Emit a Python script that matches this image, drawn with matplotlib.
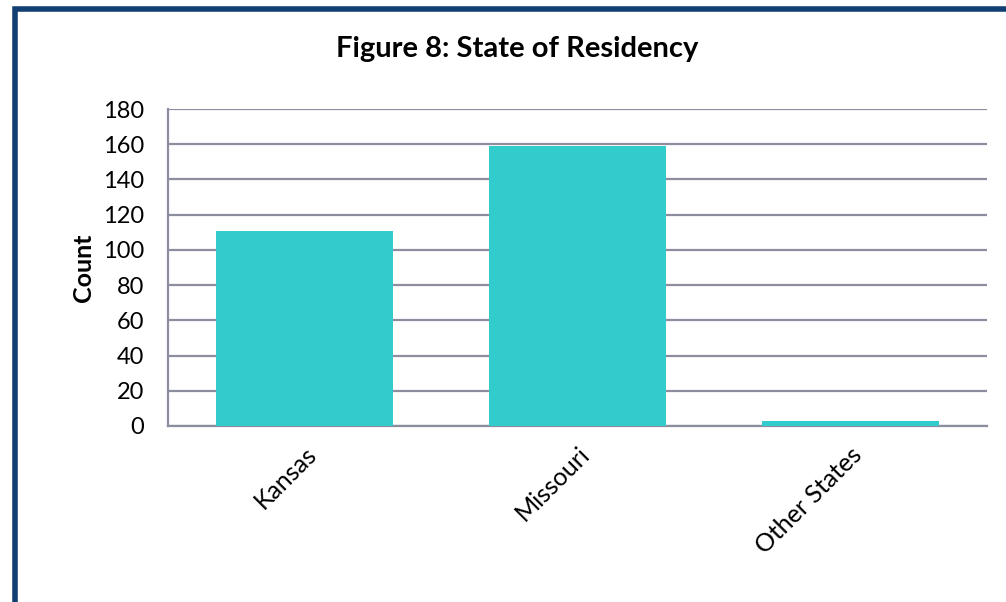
import matplotlib.pyplot as plt
from matplotlib.patches import Rectangle

states = ["Kansas", "Missouri", "Other States"]
counts = [111, 159, 3]
yticks = [0, 20, 40, 60, 80, 100, 120, 140, 160, 180]

plt.rcParams['font.family'] = ['Lato', 'DejaVu Sans']

W, H = 1006, 602
fig = plt.figure(figsize=(W / 100, H / 100), dpi=100)

# navy frame round the chart (runs off the right and bottom)
fig.patches.append(Rectangle((15 / W, -0.05), 1.2, 1 - 8.5 / H + 0.05,
                             transform=fig.transFigure, fill=False,
                             edgecolor='#123f73', linewidth=4))

ax = fig.add_axes([168 / W, 1 - 426 / H, (987 - 168) / W, (426 - 109) / H])
x = range(len(states))
ax.bar(x, counts, width=0.645, color='#33cccc', zorder=3)

ax.set_xlim(-0.5, 2.5)
ax.set_ylim(0, 180)
ax.set_yticks(yticks)
ax.yaxis.grid(True, color='#8c8ea0', linewidth=1.6, zorder=0)
ax.set_axisbelow(True)

for s in ['top', 'right']:
    ax.spines[s].set_visible(False)
ax.spines['left'].set_color('#8c8ea0')
ax.spines['bottom'].set_color('#8c8ea0')
ax.spines['left'].set_linewidth(1.6)
ax.spines['bottom'].set_linewidth(1.6)
ax.tick_params(axis='y', length=0, labelsize=17, pad=17)
ax.tick_params(axis='x', length=0, pad=12)

ax.set_xticks(list(x))
ax.set_xticklabels(states, rotation=45, ha='right', rotation_mode='anchor',
                   fontsize=18)
ax.set_ylabel("Count", fontsize=18, fontweight='bold', labelpad=6)

fig.text(517 / W, 1 - 49 / H, "Figure 8: State of Residency", ha='center',
         va='center', fontsize=21, fontweight='bold')

fig.savefig("out.png", dpi=100)
